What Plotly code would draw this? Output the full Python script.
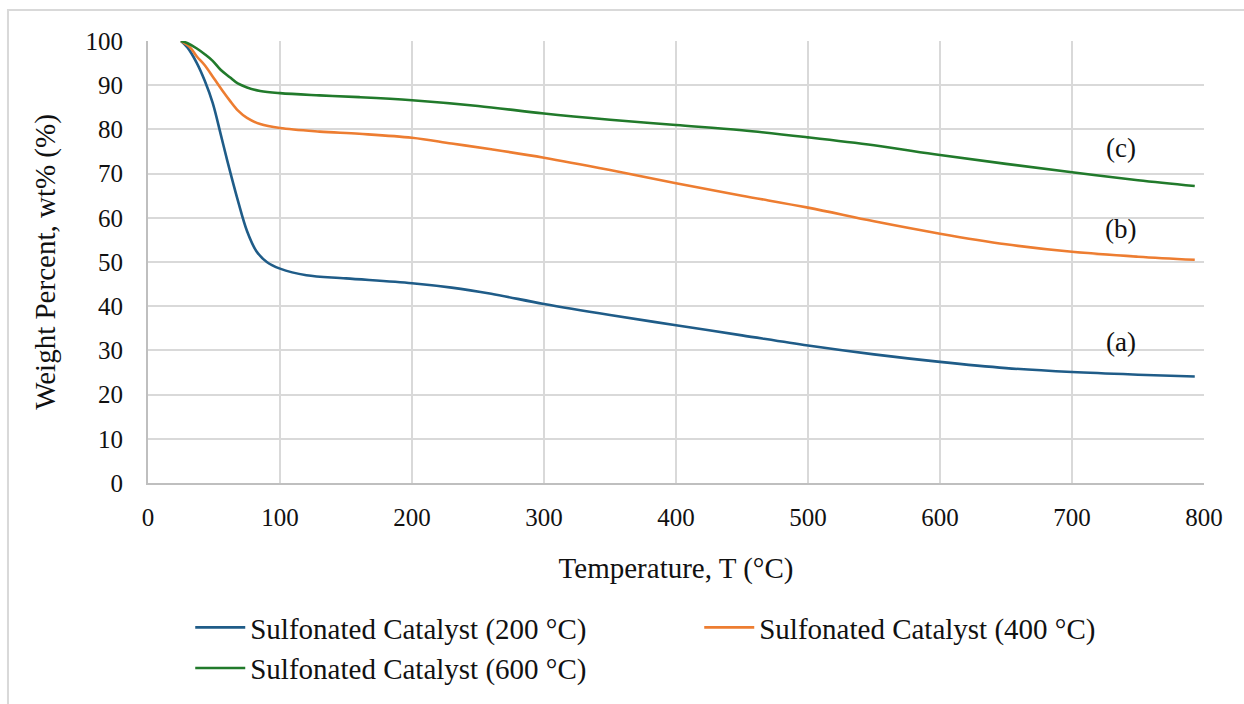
import plotly.graph_objects as go

# Thermogravimetric curves of the sulfonated catalysts
temp_a = [25, 30, 37, 43, 49, 55, 60, 68, 75, 82, 90, 100, 120, 150, 200, 230, 260, 300,
          350, 400, 450, 500, 550, 600, 650, 700, 750, 793]
wt_a = [100, 98.5, 95, 91, 86, 79, 73, 64, 57, 52.5, 50, 48.5, 47, 46.3, 45.2, 44.2, 42.8, 40.5,
        38, 35.7, 33.4, 31.1, 29.1, 27.4, 26, 25.1, 24.5, 24.1]

temp_b = [25, 32, 37, 43, 50, 57, 62, 68, 75, 85, 100, 130, 160, 200, 230, 260, 300,
          350, 400, 450, 500, 550, 600, 650, 700, 750, 793]
wt_b = [100, 98.5, 96.5, 94.5, 91.5, 88.5, 86.5, 84.3, 82.6, 81.2, 80.3, 79.5, 79, 78.1, 76.8, 75.5, 73.6,
        70.8, 67.8, 65, 62.3, 59.2, 56.4, 54, 52.3, 51.2, 50.5]

temp_c = [25, 30, 37, 43, 49, 55, 62, 68, 75, 85, 100, 130, 160, 200, 250, 300,
          350, 400, 450, 500, 550, 600, 650, 700, 750, 793]
wt_c = [100, 99.5, 98.3, 97, 95.5, 93.5, 91.8, 90.4, 89.5, 88.7, 88.2, 87.7, 87.3, 86.6, 85.3, 83.6,
        82.2, 81, 79.8, 78.2, 76.4, 74.2, 72.2, 70.3, 68.5, 67.2]

series_names = ["Sulfonated Catalyst (200 °C)", "Sulfonated Catalyst (400 °C)",
                "Sulfonated Catalyst (600 °C)"]
series_colors = ["#1F5C88", "#ED7D31", "#217A2B"]

curve_labels = ["(a)", "(b)", "(c)"]
label_x = [737, 737, 737]
label_y = [31.9, 57.5, 75.8]

FONT = "Liberation Serif, Times New Roman, serif"

fig = go.Figure()
for xs, ys, name, color in zip([temp_a, temp_b, temp_c], [wt_a, wt_b, wt_c],
                               series_names, series_colors):
    fig.add_trace(go.Scatter(x=xs, y=ys, name=name, mode="lines",
                             line=dict(color=color, width=2.6, shape="spline", smoothing=1.0)))

for txt, lx, ly in zip(curve_labels, label_x, label_y):
    fig.add_annotation(x=lx, y=ly, text=txt, showarrow=False,
                       font=dict(family=FONT, size=27, color="#111111"))

# outer chart-area frame
fig.add_shape(type="rect", xref="paper", yref="paper",
              x0=-0.1326, x1=1.2, y0=-0.7, y1=1.0701,
              line=dict(color="#d9d9d9", width=2), layer="below")

fig.update_layout(
    width=1244, height=704,
    margin=dict(l=148, r=40, t=41, b=221, autoexpand=False),
    paper_bgcolor="white", plot_bgcolor="white",
    font=dict(family=FONT, size=25, color="#111111"),
    showlegend=True,
    legend=dict(orientation="h", xref="paper", x=0.04, xanchor="left",
                yref="container", y=0.1449, yanchor="top",
                entrywidth=444, entrywidthmode="pixels", itemwidth=50,
                font=dict(family=FONT, size=29, color="#111111"),
                tracegroupgap=0),
)
fig.update_xaxes(range=[0, 800], dtick=100, tick0=0,
                 showgrid=True, gridcolor="#d9d9d9", gridwidth=2,
                 showline=True, linecolor="#bfbfbf", linewidth=2,
                 zeroline=False, ticks="", ticklabelstandoff=11,
                 title=dict(text="Temperature, T (°C)", font=dict(size=29), standoff=28))
fig.update_yaxes(range=[0, 100], dtick=10, tick0=0,
                 showgrid=True, gridcolor="#d9d9d9", gridwidth=2,
                 showline=True, linecolor="#bfbfbf", linewidth=2,
                 zeroline=False, ticks="", ticklabelstandoff=18,
                 title=dict(text="Weight Percent, wt% (%)", font=dict(size=29), standoff=21))

fig.write_html("out.html")
